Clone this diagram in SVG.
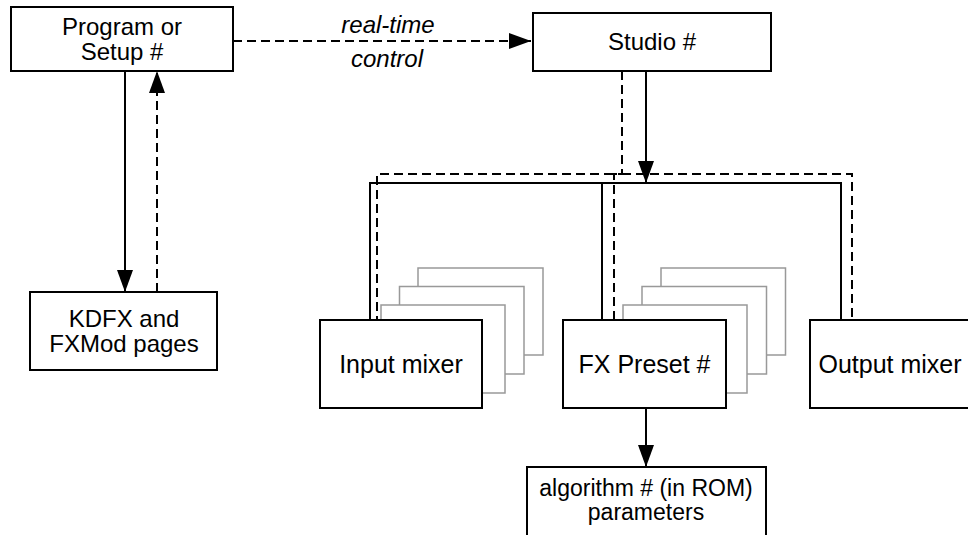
<svg xmlns="http://www.w3.org/2000/svg" width="968" height="535" viewBox="0 0 968 535">
<style>
.box{fill:#fff;stroke:#000;stroke-width:2}
.stack{fill:#fff;stroke:#999;stroke-width:1.5}
.t{font-family:"Liberation Sans",Arial,Helvetica,sans-serif;font-size:24px;fill:#000;text-anchor:middle}
.it{font-style:italic}
.sm{font-size:23px}
.lg{font-size:25px}
.ln{fill:none;stroke:#000;stroke-width:2}
.dash{stroke-dasharray:9 5}
</style>
<defs>
<marker id="ah" markerUnits="userSpaceOnUse" markerWidth="24" markerHeight="16" refX="22" refY="8" orient="auto">
<path d="M0,0 L22,8 L0,16 z" fill="#000"/>
</marker>
</defs>
<rect width="968" height="535" fill="#fff"/>
<g id="connectors">
<path class="ln dash" d="M233,41 L531,41" marker-end="url(#ah)"/>
<path class="ln" d="M125,71 L125,292" marker-end="url(#ah)"/>
<path class="ln dash" d="M157,292 L157,71" marker-end="url(#ah)"/>
<path class="ln dash" d="M622,71 L622,174 L377,174 L377,320"/>
<path class="ln dash" d="M614,320 L614,174 L852,174 L852,320"/>
<path class="ln" d="M646,71 L646,183" marker-end="url(#ah)"/>
<path class="ln" d="M370,320 L370,183 L841,183 L841,320"/>
<path class="ln" d="M602,183 L602,320"/>
<path class="ln" d="M646,408 L646,467" marker-end="url(#ah)"/>
<text class="t it" x="388" y="33">real-time</text>
<text class="t it" x="387" y="67">control</text>
</g>
<g id="program">
<rect class="box" x="11" y="7" width="222" height="64"/>
<text class="t" x="122" y="35">Program or</text>
<text class="t" x="122" y="60">Setup #</text>
</g>
<g id="studio">
<rect class="box" x="533" y="13" width="238" height="58"/>
<text class="t" x="652" y="50">Studio #</text>
</g>
<g id="kdfx">
<rect class="box" x="30" y="292" width="187" height="78"/>
<text class="t" x="124" y="327">KDFX and</text>
<text class="t" x="124" y="352">FXMod pages</text>
</g>
<g id="input-mixer">
<rect class="stack" x="418" y="268" width="125" height="87"/>
<rect class="stack" x="399.5" y="286.5" width="124.5" height="87.5"/>
<rect class="stack" x="381" y="305" width="124" height="88"/>
<rect class="box" x="320" y="320" width="162" height="88"/>
<text class="t lg" x="401" y="373">Input mixer</text>
</g>
<g id="fx-preset">
<rect class="stack" x="661" y="268" width="124.5" height="87"/>
<rect class="stack" x="642" y="286.5" width="124.5" height="87.5"/>
<rect class="stack" x="623" y="305" width="124" height="88"/>
<rect class="box" x="563" y="320" width="163" height="88"/>
<text class="t lg" x="644.5" y="373">FX Preset #</text>
</g>
<g id="output-mixer">
<rect class="box" x="810" y="320" width="166" height="88"/>
<text class="t lg" x="890" y="373">Output mixer</text>
</g>
<g id="algorithm">
<rect class="box" x="527" y="467" width="239" height="78"/>
<text class="t sm" x="646" y="496">algorithm # (in ROM)</text>
<text class="t sm" x="646" y="520">parameters</text>
</g>
</svg>
